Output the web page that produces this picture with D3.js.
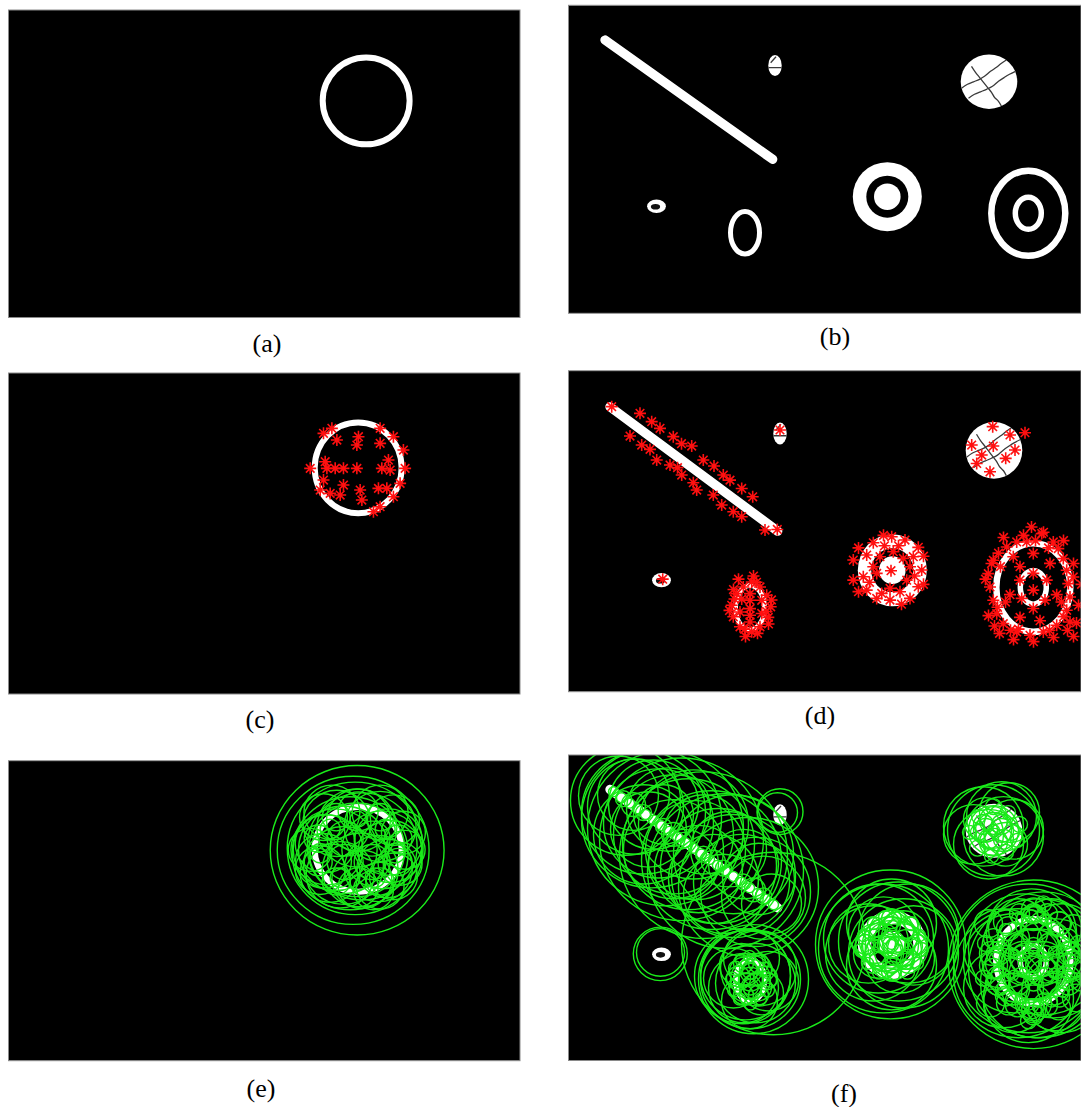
<!DOCTYPE html>
<html>
<head>
<meta charset="utf-8">
<script src="https://cdn.jsdelivr.net/npm/d3@7"></script>
<style>
  html, body { margin: 0; padding: 0; background: #fff; }
  svg { display: block; }
</style>
</head>
<body>
<svg id="fig" width="1081" height="1107"></svg>
<script>
// Image coordinates: every scene lives in a 512 x 308 pixel frame.

// ---------- panel captions ----------
const panelLabels = ["(a)", "(b)", "(c)", "(d)", "(e)", "(f)"];

// ---------- scene 1: a single white ring ----------
const ringCx = [358];
const ringCy = [91];
const ringR = [43.5];
const ringThick = [6];

// ---------- scene 2: rod, blobs and rings ----------
const rodStart = [36.5, 34.7];
const rodEnd = [204.2, 154];
const rodThick = 9.3;
// filled white ellipses: [cx, cy, rx, ry]
const solidBlobs = [
  [206.5, 60.2, 6.7, 10.5],   // small oval, top middle
  [420.5, 76.4, 28.3, 27.2],  // cracked disc
  [88.0, 201.0, 9.4, 6.8]     // tiny oval, bottom left
];
// dark holes inside blobs: [cx, cy, rx, ry]
const holes = [
  [87.0, 201.5, 4.6, 2.8]
];
// annulus with a centre disc: outer white, black gap, inner white radii
const targetCentre = [318.8, 191.4];
const targetRadii = [34.5, 21, 13.3];
// stroked rings: [cx, cy, rx, ry, thickness]
const hollowRings = [
  [176.5, 227.4, 14.5, 21.3, 5.0],
  [459.8, 208.0, 37.0, 42.5, 6.5],
  [459.8, 208.0, 13.0, 16.0, 5.5]
];
// thin dark cracks across the white blobs
const cracks = [
  [[393, 83], [399, 79], [405, 76.5], [411, 74], [416, 71], [422, 66], [428, 62], [433, 58], [439, 54]],
  [[400, 93], [406, 89], [412, 86.5], [418, 84], [424, 81], [430, 76], [436, 72], [441, 69], [447, 66]],
  [[403, 61], [407, 67], [411, 72], [415, 77], [419, 82], [423, 87], [426, 92], [430, 96], [433, 101]],
  [[199.5, 62.4], [213.5, 62.4]],
  [[202.2, 57.4], [207.5, 51.4]]
];

// ---------- detected keypoints ----------
const keyptsC = [
  [331.7, 53.1], [323.3, 57.9], [336.7, 64.3], [358.3, 61.1], [356.7, 69.1], [380, 53.1],
  [393.3, 61.1], [380, 67.5], [403.3, 73.9], [388.3, 83.5], [310, 91.5], [325, 85.1],
  [326.7, 91.5], [335, 91.5], [343.3, 91.5], [356.7, 91.5], [381.7, 91.5], [390, 93.1],
  [405, 91.5], [323.3, 102.7], [320, 112.3], [330, 115.5], [340, 117.1], [360, 112.3],
  [361.7, 121.9], [378.3, 110.7], [386.7, 110.7], [393.3, 118.7], [400, 105.9],
  [373.3, 133.1], [380, 128.3], [343.3, 107.5]
];
const keyptsD = [
  // along the rod
  [38.2, 34.5], [66.5, 40.9], [78.2, 48.9], [86.5, 55.3], [56.5, 62.7], [68.2, 71.3],
  [76.5, 75.5], [99.8, 63.3], [118.2, 72.3], [83.2, 85.7], [96.5, 90.5], [108.2, 100.1],
  [119.8, 107.5], [129.8, 85.7], [140.5, 91.5], [149.8, 100.1], [156.5, 105], [168.2, 113],
  [179.2, 121], [123.2, 114.5], [139.8, 119.3], [148.2, 128.9], [159.8, 135.3],
  [168.2, 140.1], [191.5, 152.9], [203.8, 152.3], [108, 70], [104, 93],
  // small ovals
  [206.5, 56.9], [89.2, 200],
  // cracked disc
  [419.2, 53.7], [436.5, 61.7], [451.5, 59.5], [398.2, 71.3], [419.8, 72.3], [441.5, 76.1],
  [408.2, 80.9], [432.2, 84.1], [416.5, 97], [403.2, 89],
  // annulus
  [318.2, 159.3], [299.8, 165.1], [331.5, 162.5], [344.8, 169.5], [293.2, 176.9],
  [279.8, 181.7], [348.2, 191.3], [279.8, 200.9], [293.2, 210.5], [303.2, 218.5],
  [316.5, 220.1], [336.5, 218.5], [344.8, 207.3], [317.5, 191.9], [306.5, 178.5],
  [329.8, 180.1], [303.2, 194.5], [333.2, 201], [316.5, 208.9], [319.8, 173.7],
  [299.8, 188.1], [336.5, 188.1], [308.2, 213.7], [326.5, 212.1], [339.8, 178.5],
  [289.8, 197.7], [296, 203], [341, 197], [311, 168], [325, 168],
  [285, 170], [350, 178], [285, 212], [350, 205], [310, 158], [328, 224],
  // hollow ellipse
  [178.2, 202.7], [169.8, 207.5], [186.5, 207.5], [163.2, 213.9], [193.2, 215.5],
  [158.2, 225.1], [197.2, 226.5], [159.8, 236.1], [194.8, 236.7], [166.5, 245.7],
  [186.5, 245.7], [178.2, 250.5], [176.5, 213.9], [176.5, 220.3], [176.5, 228.3],
  [176.5, 234.7], [176.5, 241.1], [168.2, 219.1], [188.2, 220.3], [166.5, 231.5],
  [188.2, 232.9], [161, 219], [193, 231], [171, 248], [183, 203],
  [156, 230], [198, 220], [160, 210], [195, 243], [180, 197], [172, 255], [184, 252], [165, 200],
  // double ring, outer
  [468.2, 156.3], [453.2, 164.3], [479.8, 164.3], [433.2, 169.1], [419.8, 181.9],
  [414.8, 194.7], [416.5, 207.5], [419.8, 220.3], [423.2, 233.1], [429.8, 242.7],
  [443.2, 250.7], [456.5, 253.9], [469.8, 250.7], [483.2, 244.3], [496.5, 241.1],
  [493.2, 229.9], [496.5, 217.1], [494.8, 204.3], [493.2, 191.5], [489.8, 180.3],
  [484.8, 170.7], [443.2, 164.3], [499.8, 197.9], [425, 175], [421, 245], [437, 249],
  [476, 249], [490, 236], [427, 188], [424, 227], [462, 163],
  [430, 160], [490, 163], [412, 200], [508, 205], [415, 235], [505, 225], [440, 258],
  [480, 256], [460, 260], [470, 155], [450, 158], [500, 185], [418, 185], [426, 252],
  [494, 249], [503, 242], [445, 248], [475, 170], [432, 222], [488, 222], [458, 150],
  [500, 255],
  // double ring, inner
  [459.8, 210.5], [459.8, 194.5], [446.5, 200.9], [473.2, 200.9], [448.2, 218.5],
  [471.5, 220.1], [459.8, 228.1], [446.5, 188.1], [476.5, 184.9], [459.8, 175.3],
  [439.8, 178.5], [446.5, 236.7], [466.5, 239.9], [436.5, 214.9], [483.2, 214.9]
];

// ---------- scale-space circles: [cx, cy, r] ----------
const circlesE = [
  [357, 92, 87], [353, 92, 76], [355, 90, 68], [350, 95, 58], [362, 88, 55],
  [331.7, 53.1, 28], [323.3, 57.9, 24], [336.7, 64.3, 34], [358.3, 61.1, 32], [356.7, 69.1, 40],
  [380, 53.1, 28], [393.3, 61.1, 26], [380, 67.5, 36], [403.3, 73.9, 22], [388.3, 83.5, 34],
  [310, 91.5, 22], [325, 85.1, 30], [326.7, 91.5, 36], [335, 91.5, 42], [343.3, 91.5, 45],
  [356.7, 91.5, 48], [381.7, 91.5, 40], [390, 93.1, 32], [405, 91.5, 20], [323.3, 102.7, 28],
  [320, 112.3, 25], [330, 115.5, 30], [340, 117.1, 34], [360, 112.3, 38], [361.7, 121.9, 30],
  [378.3, 110.7, 34], [386.7, 110.7, 30], [393.3, 118.7, 24], [400, 105.9, 22],
  [373.3, 133.1, 20], [380, 128.3, 24], [343.3, 107.5, 40],
  [330, 70, 10], [385, 70, 10], [320, 95, 10], [395, 95, 10], [340, 120, 10], [375, 120, 10],
  [358, 60, 8], [358, 125, 8], [345, 80, 18], [372, 80, 18], [345, 104, 18], [372, 104, 18],
  [336, 58, 14], [380, 58, 14], [318, 80, 14], [398, 80, 14], [318, 104, 14], [398, 104, 14],
  [336, 124, 14], [380, 124, 14], [358, 52, 20], [358, 130, 20]
];
const circlesF = [
  // rod cluster
  [45, 41, 40], [52, 46, 55], [62, 52, 48], [70, 58, 62], [78, 64, 70], [85, 69, 55],
  [92, 74, 78], [100, 80, 60], [108, 85, 82], [115, 90, 66], [122, 96, 50], [130, 101, 84],
  [138, 106, 70], [145, 112, 58], [152, 117, 78], [160, 122, 62], [168, 128, 48],
  [175, 133, 70], [182, 138, 55], [190, 144, 42], [198, 150, 30], [80, 50, 45],
  [100, 95, 50], [120, 70, 55], [140, 125, 45], [160, 100, 60], [70, 80, 50], [130, 80, 40],
  [150, 140, 40], [110, 110, 35], [90, 60, 30], [170, 110, 35],
  [60, 40, 36], [95, 55, 42], [125, 115, 44], [155, 95, 38], [185, 125, 36], [75, 75, 38],
  [50, 44, 8], [70, 58, 8], [90, 72, 8], [110, 86, 8], [130, 100, 8], [150, 114, 8],
  [170, 128, 8], [190, 142, 8], [60, 50, 12], [100, 80, 12], [140, 108, 12], [180, 136, 12],
  [40, 37, 5], [48, 43, 5], [56, 48.6, 5], [64, 54.3, 5], [72, 60, 5], [80, 65.6, 5],
  [88, 71.3, 5], [96, 77, 5], [104, 82.7, 5], [112, 88.4, 5], [120, 94.1, 5], [128, 99.8, 5],
  [136, 105.4, 5], [144, 111.1, 5], [152, 116.8, 5], [160, 122.5, 5], [168, 128.2, 5],
  [176, 133.9, 5], [184, 139.6, 5], [192, 145.3, 5], [200, 151, 5],
  // link between rod and hollow ellipse
  [200, 190, 92],
  // small ovals
  [206.5, 57.1, 23], [204, 58, 20], [86.8, 200.5, 27], [87, 199, 24],
  // hollow ellipse
  [177, 226, 50], [172, 222, 45], [182, 230, 40], [170, 235, 35], [185, 215, 38],
  [160, 225, 30], [195, 228, 30], [178, 205, 28], [176, 248, 28], [177, 226, 20],
  [168, 212, 22], [188, 240, 22], [180, 226, 55], [169, 223, 48],
  [170, 210, 10], [185, 210, 10], [165, 225, 12], [192, 225, 12], [170, 242, 10],
  [185, 242, 10], [177, 218, 8], [177, 234, 8],
  [176, 203, 6], [168, 207, 6], [186, 208, 6], [162, 215, 7], [192, 216, 7], [159, 226, 7],
  [196, 227, 7], [161, 237, 7], [194, 237, 7], [166, 246, 6], [187, 246, 6], [177, 251, 6],
  [177, 226, 12], [170, 218, 14], [184, 234, 14], [172, 236, 16], [182, 216, 16],
  // annulus
  [317, 191, 75], [310, 195, 65], [325, 188, 60], [305, 185, 55], [330, 200, 55],
  [300, 200, 48], [335, 180, 50], [318, 170, 45], [318, 212, 45], [295, 190, 40],
  [340, 192, 40], [310, 178, 35], [326, 205, 35], [317, 191, 28], [305, 200, 25],
  [330, 182, 25], [300, 175, 12], [335, 175, 12], [300, 208, 12], [335, 208, 12],
  [318, 165, 10], [318, 218, 10], [292, 191, 10], [344, 191, 10], [317, 191, 8],
  [310, 185, 15], [325, 198, 15],
  [300, 170, 6], [312, 164, 7], [326, 163, 6], [338, 170, 7], [346, 182, 6], [348, 196, 7],
  [344, 210, 6], [334, 219, 7], [320, 222, 6], [306, 219, 7], [294, 210, 6], [288, 197, 7],
  [290, 182, 6], [318, 191, 5], [312, 186, 4], [325, 195, 4], [305, 175, 9], [332, 176, 9],
  [305, 207, 9], [332, 207, 9], [297, 193, 9], [340, 193, 9], [318, 172, 9], [318, 211, 9],
  [318, 191, 14], [310, 200, 18], [326, 183, 18], [302, 190, 20], [334, 196, 20],
  [318, 178, 22], [318, 205, 22],
  // cracked disc
  [420, 76, 46], [410, 72, 40], [430, 82, 40], [415, 90, 35], [428, 62, 35], [400, 80, 30],
  [440, 75, 30], [420, 76, 25], [412, 65, 22], [432, 90, 22], [436, 58, 30],
  [410, 70, 10], [428, 70, 10], [415, 85, 10], [430, 85, 10], [420, 76, 6], [405, 78, 8],
  [438, 78, 8],
  [405, 62, 7], [420, 52, 8], [435, 58, 7], [446, 70, 8], [444, 86, 7], [432, 98, 8],
  [418, 102, 7], [404, 94, 8], [396, 78, 7], [412, 76, 12], [428, 76, 12], [420, 66, 14],
  [420, 88, 14], [420, 76, 18],
  // double ring
  [460, 211, 85], [455, 205, 75], [465, 215, 70], [445, 220, 65], [470, 200, 62],
  [450, 195, 55], [462, 230, 55], [440, 210, 50], [480, 215, 50], [458, 180, 45],
  [455, 245, 45], [430, 195, 40], [430, 235, 40], [488, 190, 40], [488, 240, 40],
  [460, 211, 35], [445, 175, 30], [478, 175, 30], [440, 250, 30], [482, 248, 30],
  [425, 200, 12], [425, 225, 12], [435, 175, 12], [435, 250, 12], [460, 165, 12],
  [460, 258, 12], [485, 170, 12], [485, 255, 12], [495, 200, 12], [495, 225, 12],
  [445, 190, 10], [475, 190, 10], [445, 232, 10], [475, 232, 10], [460, 211, 8],
  [452, 205, 15], [468, 218, 15], [420, 212, 14], [498, 212, 14], [460, 160, 10],
  [460, 262, 10],
  [420, 185, 10], [418, 200, 12], [420, 215, 10], [424, 230, 12], [432, 243, 10],
  [444, 252, 12], [458, 256, 10], [472, 252, 12], [486, 244, 10], [495, 230, 12],
  [499, 215, 10], [498, 200, 12], [494, 185, 10], [486, 170, 12], [474, 160, 10],
  [460, 156, 12], [446, 160, 10], [432, 168, 12], [460, 192, 8], [448, 200, 8],
  [472, 200, 8], [448, 222, 8], [472, 222, 8], [460, 230, 8], [440, 185, 16],
  [480, 185, 16], [440, 236, 16], [480, 236, 16], [430, 210, 18], [490, 210, 18],
  [460, 170, 18], [460, 250, 18], [450, 210, 22], [470, 210, 22], [460, 200, 25],
  [460, 222, 25], [500, 175, 14], [503, 245, 14], [415, 170, 14], [417, 250, 14],
  [505, 210, 10],
  [425, 190, 6], [422, 205, 6], [424, 220, 6], [428, 236, 6], [438, 246, 6], [450, 252, 6],
  [465, 254, 6], [478, 248, 6], [489, 238, 6], [495, 222, 6], [496, 206, 6], [492, 190, 6],
  [484, 177, 6], [472, 166, 6], [458, 162, 6], [444, 165, 6], [432, 176, 6], [450, 210, 5],
  [470, 210, 5], [460, 198, 5], [460, 224, 5], [440, 200, 5], [480, 220, 5], [440, 222, 5],
  [480, 198, 5], [505, 190, 8], [507, 230, 8], [410, 225, 8], [412, 190, 8], [455, 268, 8],
  [470, 150, 8]
];

// ---------- layout ----------
const SCENE_H = 308;
const panels = [
  { key: "a", x: 8.5,   y: 10,    w: 511.5, h: 307.5, xDom: [0, 512],    scene: 1, layer: null,  lx: 267, ly: 345 },
  { key: "b", x: 568.5, y: 5.3,   w: 512.5, h: 308,   xDom: [0, 512.5],  scene: 2, layer: null,  lx: 835, ly: 338 },
  { key: "c", x: 8.5,   y: 373,   w: 511.5, h: 321,   xDom: [8, 520],    scene: 1, layer: "kpC", lx: 260, ly: 721 },
  { key: "d", x: 568.5, y: 370.7, w: 512.5, h: 321,   xDom: [-5, 507.5], scene: 2, layer: "kpD", lx: 820, ly: 717 },
  { key: "e", x: 8.5,   y: 760.7, w: 511.5, h: 300,   xDom: [8, 520],    scene: 1, layer: "cE",  lx: 261, ly: 1090 },
  { key: "f", x: 568.5, y: 755,   w: 512.5, h: 305.5, xDom: [-5, 507.5], scene: 2, layer: "cF",  lx: 844, ly: 1095 }
];

const svg = d3.select("#fig");
const defs = svg.append("defs");
const WHITE = "#ffffff", RED = "#ff1010", GREEN = "#1aeb1a", CRACK = "#3a3a3a";

function ellipseAttrs(sel, xs, ys, cx, cy, rx, ry) {
  sel.attr("cx", xs(cx)).attr("cy", ys(cy))
     .attr("rx", Math.abs(xs(cx + rx) - xs(cx)))
     .attr("ry", Math.abs(ys(cy + ry) - ys(cy)));
  return sel;
}

panels.forEach((p, i) => {
  const xs = d3.scaleLinear().domain(p.xDom).range([p.x, p.x + p.w]);
  const ys = d3.scaleLinear().domain([0, SCENE_H]).range([p.y, p.y + p.h]);
  const kx = Math.abs(xs(1) - xs(0));

  defs.append("clipPath").attr("id", "clip-" + p.key)
    .append("rect").attr("x", p.x).attr("y", p.y).attr("width", p.w).attr("height", p.h);

  const g = svg.append("g").attr("clip-path", `url(#clip-${p.key})`);
  g.append("rect").attr("x", p.x).attr("y", p.y).attr("width", p.w).attr("height", p.h).attr("fill", "#000");

  if (p.scene === 1) {
    ringCx.forEach((cx, j) => {
      ellipseAttrs(g.append("ellipse"), xs, ys, cx, ringCy[j], ringR[j], ringR[j])
        .attr("fill", "none").attr("stroke", WHITE).attr("stroke-width", ringThick[j] * kx);
    });
  } else {
    g.append("line")
      .attr("x1", xs(rodStart[0])).attr("y1", ys(rodStart[1]))
      .attr("x2", xs(rodEnd[0])).attr("y2", ys(rodEnd[1]))
      .attr("stroke", WHITE).attr("stroke-width", rodThick * kx).attr("stroke-linecap", "round");

    solidBlobs.forEach(b => ellipseAttrs(g.append("ellipse"), xs, ys, b[0], b[1], b[2], b[3]).attr("fill", WHITE));
    holes.forEach(b => ellipseAttrs(g.append("ellipse"), xs, ys, b[0], b[1], b[2], b[3]).attr("fill", "#111"));

    targetRadii.forEach((r, j) => {
      ellipseAttrs(g.append("ellipse"), xs, ys, targetCentre[0], targetCentre[1], r, r)
        .attr("fill", j % 2 === 0 ? WHITE : "#000");
    });

    hollowRings.forEach(h => {
      ellipseAttrs(g.append("ellipse"), xs, ys, h[0], h[1], h[2], h[3])
        .attr("fill", "none").attr("stroke", WHITE).attr("stroke-width", h[4] * kx);
    });

    // cracks stay inside the white blobs they cut
    const cp = defs.append("clipPath").attr("id", "blob-" + p.key);
    solidBlobs.slice(0, 2).forEach(b => ellipseAttrs(cp.append("ellipse"), xs, ys, b[0], b[1], b[2], b[3]));
    const crackLine = d3.line().x(d => xs(d[0])).y(d => ys(d[1])).curve(d3.curveCatmullRom);
    g.append("g").attr("clip-path", `url(#blob-${p.key})`)
      .selectAll("path").data(cracks).join("path")
      .attr("d", crackLine).attr("fill", "none").attr("stroke", CRACK).attr("stroke-width", 1.3);
  }

  if (p.layer === "kpC" || p.layer === "kpD") {
    const pts = p.layer === "kpC" ? keyptsC : keyptsD;
    const a = 6, b = 4.3;
    g.append("g").selectAll("path").data(pts).join("path")
      .attr("d", d => {
        const x = xs(d[0]), y = ys(d[1]);
        return `M${x - a},${y}L${x + a},${y}M${x},${y - a}L${x},${y + a}` +
               `M${x - b},${y - b}L${x + b},${y + b}M${x - b},${y + b}L${x + b},${y - b}`;
      })
      .attr("stroke", RED).attr("stroke-width", 1.6).attr("fill", "none");
  }

  if (p.layer === "cE" || p.layer === "cF") {
    const cs = p.layer === "cE" ? circlesE : circlesF;
    g.append("g").selectAll("ellipse").data(cs).join("ellipse")
      .each(function (d) { ellipseAttrs(d3.select(this), xs, ys, d[0], d[1], d[2], d[2]); })
      .attr("fill", "none").attr("stroke", GREEN).attr("stroke-width", 1.4);
  }

  svg.append("rect").attr("x", p.x).attr("y", p.y).attr("width", p.w).attr("height", p.h)
    .attr("fill", "none").attr("stroke", "#8a8a8a").attr("stroke-width", 1);

  svg.append("text")
    .attr("x", p.lx).attr("y", p.ly + 7)
    .attr("text-anchor", "middle")
    .attr("font-family", "'Liberation Serif', 'Times New Roman', serif")
    .attr("font-size", 26).attr("fill", "#000")
    .text(panelLabels[i]);
});
</script>
</body>
</html>
